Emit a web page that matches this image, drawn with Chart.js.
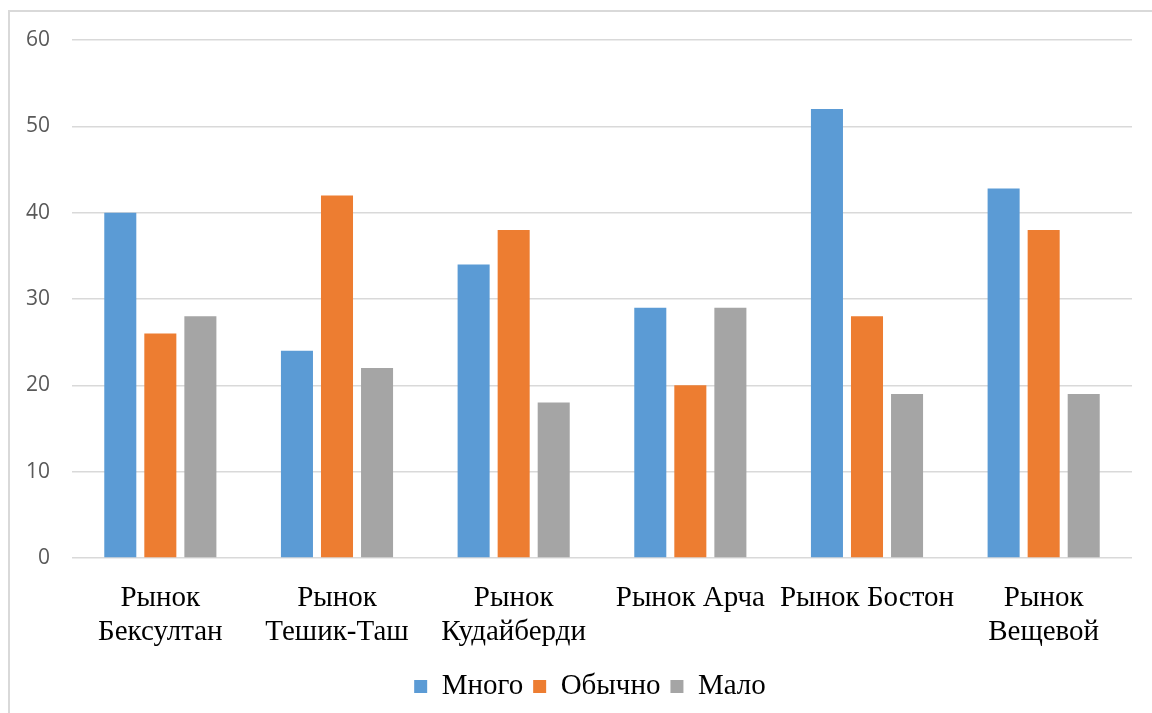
<!DOCTYPE html>
<html lang="ru">

<head>
    <meta charset="UTF-8">
    <script src="https://cdn.jsdelivr.net/npm/chart.js@4.4.1/dist/chart.umd.min.js"></script>
    <title>Рынки</title>
</head>

<body style="margin: 0; background: #fff; overflow: hidden;">
    <div id="frame" style="position: absolute; left: 8px; top: 10px; width: 1200px; height: 720px; border: 2px solid #d9d9d9; box-sizing: border-box;">
        <canvas id="myChart" width="1180" height="701" style="position: absolute; left: 0; top: 0;"></canvas>
    </div>
    <script>
        const labels = [
            ['Рынок', 'Бексултан'],
            ['Рынок', 'Тешик-Таш'],
            ['Рынок', 'Кудайберди'],
            'Рынок Арча',
            'Рынок Бостон',
            ['Рынок', 'Вещевой']
        ];
        const mnogo = [40, 24, 34, 29, 52, 42.8];
        const obychno = [26, 42, 38, 20, 28, 38];
        const malo = [28, 22, 18, 29, 19, 19];
        const yTicks = [0, 10, 20, 30, 40, 50, 60];

        const serif = "'Liberation Serif', 'Times New Roman', serif";

        // let the y labels use the room left of the axis box (legend is shifted via left padding)
        const labelRoom = {
            id: 'labelRoom',
            afterLayout(chart) { chart.scales.y.left = 0; }
        };

        var ctx = document.getElementById('myChart').getContext('2d');
        var myChart = new Chart(ctx, {
            type: 'bar',
            data: {
                labels: labels,
                datasets: [{
                    label: 'Много',
                    data: mnogo,
                    backgroundColor: '#5B9BD5',
                    barPercentage: 0.8,
                    categoryPercentage: 0.68
                }, {
                    label: 'Обычно',
                    data: obychno,
                    backgroundColor: '#ED7D31',
                    barPercentage: 0.8,
                    categoryPercentage: 0.68
                }, {
                    label: 'Мало',
                    data: malo,
                    backgroundColor: '#A5A5A5',
                    barPercentage: 0.8,
                    categoryPercentage: 0.68
                }]
            },
            plugins: [labelRoom],
            options: {
                responsive: false,
                animation: false,
                layout: {
                    padding: { top: 28, right: 58, left: 38, bottom: 2 }
                },
                plugins: {
                    tooltip: { enabled: false },
                    legend: {
                        position: 'bottom',
                        labels: {
                            boxWidth: 13,
                            boxHeight: 13,
                            padding: 10,
                            color: '#000',
                            font: { family: serif, size: 29 }
                        }
                    }
                },
                scales: {
                    x: {
                        grid: { display: false },
                        border: { display: false },
                        ticks: {
                            color: '#000',
                            maxRotation: 0,
                            autoSkip: false,
                            padding: 15,
                            font: { family: serif, size: 29, lineHeight: 1.17 }
                        },
                        afterFit: function (scale) { scale.height = 104; }
                    },
                    y: {
                        min: 0,
                        max: 60,
                        afterBuildTicks: function (scale) {
                            scale.ticks = yTicks.map(v => ({ value: v }));
                        },
                        grid: { color: '#d9d9d9', lineWidth: 1.5, drawTicks: false },
                        border: { display: false },
                        ticks: {
                            color: '#595959',
                            padding: 22,
                            font: { family: "'Open Sans', sans-serif", size: 21 }
                        },
                        afterFit: function (scale) {
                            scale.width = 24;
                            scale.paddingTop = 0;
                            scale.paddingBottom = 0;
                        }
                    }
                }
            }
        });
    </script>
</body>

</html>
